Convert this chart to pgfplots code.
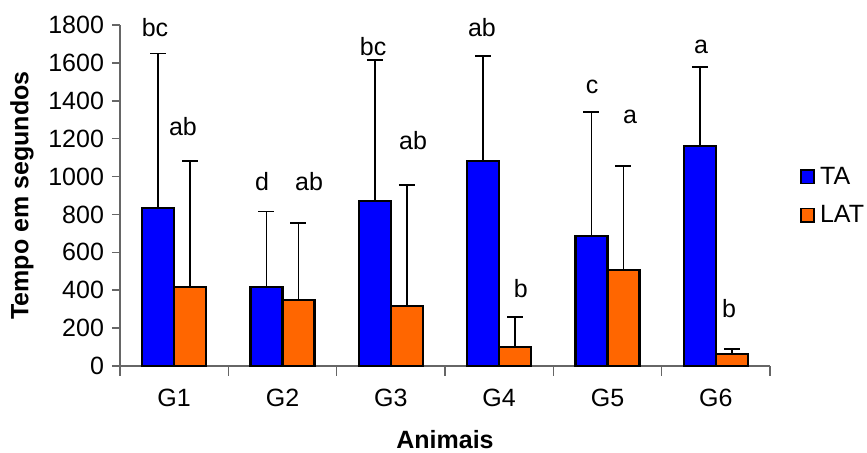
\documentclass[border=0pt]{standalone}
\usepackage{fontspec}
\setmainfont{Liberation Sans}
\usepackage{pgfplots}
\pgfplotsset{compat=1.18}
\definecolor{taBlue}{RGB}{0,0,255}
\definecolor{latOrange}{RGB}{255,102,0}
\begin{document}
\begin{tikzpicture}
\begin{axis}[
  scale only axis,
  width=325pt, height=170.5pt,
  xmin=-0.5, xmax=5.5, ymin=0, ymax=1800,
  ybar=0pt, bar width=16pt,
  axis lines=left,
  axis line style={-, draw=gray!80!black, line width=0.8pt},
  xtick={0,1,2,3,4,5},
  xticklabels={G1,G2,G3,G4,G5,G6},
  major x tick style={draw=none},
  minor xtick={-0.5,0.5,1.5,2.5,3.5,4.5,5.5},
  minor x tick style={draw=gray!80!black, line width=0.8pt},
  minor tick length=5pt,
  ytick={0,200,...,1800},
  major tick length=4pt,
  tick align=outside,
  y tick style={draw=gray!80!black, line width=0.8pt},
  /pgf/number format/assume math mode=true,
  /pgf/number format/1000 sep={},
  tick label style={font=\fontsize{12.5}{14}\selectfont},
  yticklabel style={xshift=-0.5pt},
  xticklabel style={yshift=-4pt},
  xlabel={\textbf{Animais}},
  ylabel={\textbf{Tempo em segundos}},
  label style={font=\fontsize{12.5}{14}\selectfont},
  xlabel style={at={(axis description cs:0.5,-0.217)}, anchor=center},
  ylabel style={at={(axis description cs:-0.151,0.5)}, anchor=center},
  legend style={at={(rel axis cs:1.046,0.4985)}, anchor=west, draw=none, fill=none,
    font=\fontsize{12.5}{14}\selectfont, row sep=5pt, inner sep=0pt},
  legend cell align=left,
  legend image code/.code={\draw[#1, line width=0.9pt] (0pt,-3.3pt) rectangle (6.5pt,3.3pt);},
  legend style={nodes={inner xsep=2.5pt}},
  clip=false,
]
\addplot+[fill=taBlue, draw=black, line width=1.1pt,
  error bars/.cd, y dir=plus, y explicit,
  error bar style={line width=0.9pt, black},
  error mark options={rotate=90, mark size=4pt, line width=0.9pt, black}]
  coordinates {
  (0,832) +- (0,818)
  (1,419) +- (0,396)
  (2,873) +- (0,742)
  (3,1082) +- (0,553)
  (4,685) +- (0,654)
  (5,1161) +- (0,416)
  };
\addplot+[fill=latOrange, draw=black, line width=1.1pt,
  error bars/.cd, y dir=plus, y explicit,
  error bar style={line width=0.9pt, black},
  error mark options={rotate=90, mark size=4pt, line width=0.9pt, black}]
  coordinates {
  (0,419) +- (0,663)
  (1,348) +- (0,405)
  (2,318) +- (0,636)
  (3,100) +- (0,159)
  (4,508) +- (0,546)
  (5,62) +- (0,28)
  };
\legend{TA,LAT}
\begin{scope}[every node/.style={font=\fontsize{12.5}{14}\selectfont, anchor=center, inner sep=0pt}]
\node at (axis cs:-0.177,1784) {bc};
\node at (axis cs:0.081,1262) {ab};
\node at (axis cs:0.811,971) {d};
\node at (axis cs:1.245,973) {ab};
\node at (axis cs:1.836,1686) {bc};
\node at (axis cs:2.205,1188) {ab};
\node at (axis cs:2.841,1786) {ab};
\node at (axis cs:3.201,410) {b};
\node at (axis cs:3.857,1471) {c};
\node at (axis cs:4.208,1313) {a};
\node at (axis cs:4.863,1682) {a};
\node at (axis cs:5.122,305) {b};
\end{scope}
\end{axis}
\pgfresetboundingbox
\path[use as bounding box] (-60pt,-43.5pt) rectangle (373.5pt,183pt);
\end{tikzpicture}
\end{document}
